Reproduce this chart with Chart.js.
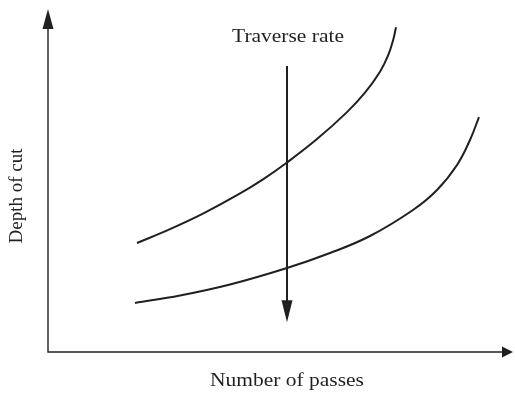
<!DOCTYPE html>
<html>
<head>
<meta charset="utf-8">
<script src="https://cdn.jsdelivr.net/npm/chart.js@4"></script>
<style>
  html, body { margin: 0; padding: 0; background: #fff; }
  #wrap { width: 515px; height: 394px; }
</style>
</head>
<body>
<div id="wrap"><canvas id="c"></canvas></div>
<script>
// values (arbitrary units, 0..100 on both axes)
var upperX = [19.14, 26.24, 33.33, 40.65, 46.24, 51.40, 57.85, 64.30, 68.17, 71.40, 73.12, 74.19, 74.84];
var upperY = [31.78, 35.83, 40.35, 45.71, 50.35, 55.25, 62.07, 69.94, 75.60, 81.72, 86.38, 90.76, 94.69];
var lowerX = [18.71, 28.39, 39.14, 51.40, 60.65, 69.25, 78.49, 83.66, 87.96, 90.75, 92.69];
var lowerY = [14.29, 16.47, 19.68, 24.49, 28.86, 33.82, 41.40, 47.23, 54.52, 61.81, 68.51];
var arrowX = [51.4, 51.4];
var arrowY = [83.4, 8.7];
var xTitle = "Number of passes";
var yTitle = "Depth of cut";
var arrowLabel = "Traverse rate";

var ink = "#231f20";
var serif = "'Liberation Serif', 'DejaVu Serif', serif";

function pts(xs, ys) {
    return xs.map(function (x, i) { return { x: x, y: ys[i] }; });
}

function head(ctx, tx, ty, dx, dy, len, half) {
    // filled triangle, tip at (tx,ty), pointing along (dx,dy)
    var bx = tx - dx * len, by = ty - dy * len;
    ctx.beginPath();
    ctx.moveTo(tx, ty);
    ctx.lineTo(bx - dy * half, by + dx * half);
    ctx.lineTo(bx + dy * half, by - dx * half);
    ctx.closePath();
    ctx.fill();
}

function label(ctx, text, x, y, rot, stretch) {
    ctx.save();
    ctx.translate(x, y);
    if (rot) ctx.rotate(rot);
    ctx.scale(stretch, 1);
    ctx.fillText(text, 0, 0);
    ctx.restore();
}

var decor = {
    id: "decor",
    afterDatasetsDraw: function (chart) {
        var ctx = chart.ctx;
        var a = chart.chartArea;
        var xs = chart.scales.x, ys = chart.scales.y;
        ctx.save();
        ctx.strokeStyle = ink;
        ctx.fillStyle = ink;
        // axes
        ctx.lineWidth = 1.4;
        ctx.beginPath();
        ctx.moveTo(a.left, a.top + 10);
        ctx.lineTo(a.left, a.bottom);
        ctx.lineTo(a.right - 6, a.bottom);
        ctx.stroke();
        head(ctx, a.left, a.top, 0, -1, 20, 5.5);
        head(ctx, a.right, a.bottom, 1, 0, 11, 5.5);
        // traverse rate arrow head
        var px = xs.getPixelForValue(arrowX[1]);
        var py = ys.getPixelForValue(arrowY[1]);
        head(ctx, px, py, 0, 1, 22, 5.5);
        // texts
        ctx.font = "19px " + serif;
        ctx.textAlign = "center";
        ctx.textBaseline = "alphabetic";
        label(ctx, arrowLabel, 288, 42, 0, 1.13);
        label(ctx, xTitle, 287, 386, 0, 1.13);
        label(ctx, yTitle, 22, 196, -Math.PI / 2, 1.0);
        ctx.restore();
    }
};

new Chart(document.getElementById("c"), {
    type: "scatter",
    data: {
        datasets: [
            {
                data: pts(upperX, upperY),
                showLine: true,
                borderColor: ink,
                borderWidth: 2,
                pointRadius: 0,
                tension: 0.4,
            },
            {
                data: pts(lowerX, lowerY),
                showLine: true,
                borderColor: ink,
                borderWidth: 2,
                pointRadius: 0,
                tension: 0.4,
            },
            {
                data: pts(arrowX, [arrowY[0], arrowY[1] + 4]),
                showLine: true,
                borderColor: ink,
                borderWidth: 2,
                pointRadius: 0,
            },
        ],
    },
    options: {
        responsive: true,
        maintainAspectRatio: false,
        animation: false,
        layout: { padding: { left: 48, right: 2, top: 9, bottom: 42 } },
        plugins: { legend: { display: false }, tooltip: { enabled: false } },
        scales: {
            x: { type: "linear", min: 0, max: 100, display: false },
            y: { type: "linear", min: 0, max: 100, display: false },
        },
    },
    plugins: [decor],
});
</script>
</body>
</html>
